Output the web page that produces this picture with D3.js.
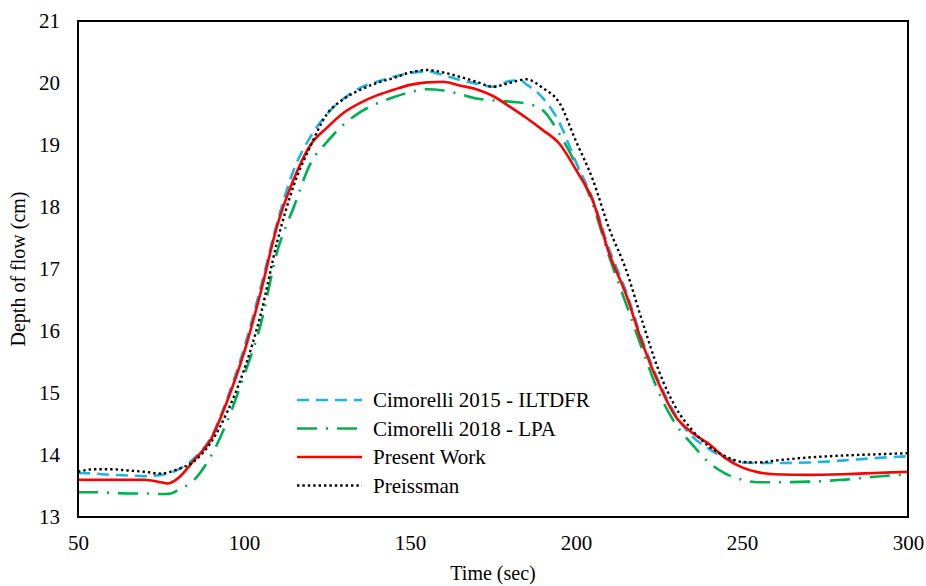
<!DOCTYPE html>
<html>
<head>
<meta charset="utf-8">
<script src="https://cdn.jsdelivr.net/npm/d3@7"></script>
<style>
  html, body { margin: 0; padding: 0; background: #fff; }
  svg { display: block; }
  text { font-family: "Liberation Serif", "Times New Roman", serif; fill: #000; }
</style>
</head>
<body>
<svg id="chart" width="926" height="586"></svg>
<script>
// ---- data ----
const timesBlue  = [50,55,60,65,70,75,80,85,90,95,100,105,110,115,120,125,130,135,140,145,150,155,160,165,170,175,180,183,185,190,195,200,205,210,215,220,225,230,235,240,245,250,255,260,270,280,290,300];
const cimorelli2015 = [13.71,13.70,13.68,13.67,13.66,13.68,13.76,13.95,14.28,14.92,15.72,16.70,17.75,18.60,19.13,19.50,19.75,19.92,20.02,20.10,20.16,20.19,20.13,20.05,19.99,19.94,20.03,20.05,19.98,19.76,19.36,18.72,18.13,17.32,16.65,15.85,15.18,14.65,14.30,14.10,13.95,13.88,13.87,13.87,13.88,13.91,13.95,13.98];

const timesGreen = [50,55,60,65,70,75,78,80,85,90,95,100,105,110,115,120,125,130,135,140,145,150,155,160,165,170,175,180,185,190,195,200,205,210,215,220,225,230,235,240,245,250,255,260,270,280,290,300];
const cimorelli2018 = [13.40,13.40,13.39,13.38,13.38,13.37,13.38,13.43,13.60,13.98,14.55,15.28,16.10,17.28,18.00,18.70,19.05,19.33,19.53,19.67,19.77,19.85,19.90,19.88,19.82,19.75,19.72,19.70,19.67,19.56,19.18,18.68,18.05,17.20,16.45,15.70,15.00,14.50,14.17,13.88,13.70,13.60,13.56,13.56,13.57,13.60,13.65,13.69];

const timesRed = [50,55,60,65,70,75,77,80,85,90,95,100,105,110,115,120,125,130,135,140,145,150,155,160,165,170,175,180,185,190,195,200,205,210,215,220,225,230,235,240,245,250,255,260,270,280,290,300];
const presentWork = [13.60,13.60,13.60,13.60,13.60,13.56,13.54,13.62,13.92,14.25,14.88,15.65,16.62,17.70,18.45,19.00,19.28,19.52,19.68,19.80,19.89,19.97,20.01,20.02,19.96,19.90,19.79,19.62,19.44,19.24,19.02,18.60,18.11,17.25,16.60,15.80,15.14,14.62,14.36,14.18,13.95,13.80,13.72,13.69,13.68,13.69,13.71,13.73];

const timesBlack = [50,55,60,65,70,75,80,85,90,95,100,105,110,115,120,125,130,135,140,145,150,155,160,165,170,175,180,185,190,195,200,205,210,215,220,225,230,235,240,245,250,255,260,270,280,290,300];
const preissman = [13.73,13.77,13.77,13.75,13.73,13.70,13.77,13.90,14.20,14.70,15.37,16.26,17.44,18.35,18.98,19.50,19.74,19.89,20.00,20.08,20.17,20.21,20.17,20.10,20.02,19.94,20.00,20.06,19.92,19.68,19.06,18.45,17.65,17.00,16.15,15.35,14.77,14.40,14.14,13.98,13.89,13.88,13.91,13.96,13.99,14.01,14.03];

const xTicks = [50,100,150,200,250,300];
const yTicks = [13,14,15,16,17,18,19,20,21];
const seriesNames = ["Cimorelli 2015 - ILTDFR","Cimorelli 2018 - LPA","Present Work","Preissman"];
const xTitle = "Time (sec)";
const yTitle = "Depth of flow (cm)";

// ---- layout ----
const svg = d3.select("#chart");
const pL = 78, pR = 908, pT = 21, pB = 517;
const x = d3.scaleLinear().domain([50,300]).range([pL,pR]);
const y = d3.scaleLinear().domain([13,21]).range([pB,pT]);

const series = [
  {name: seriesNames[0], t: timesBlue,  v: cimorelli2015, color: "#1FB5E3", width: 2.6, dash: "12,7"},
  {name: seriesNames[1], t: timesGreen, v: cimorelli2018, color: "#00B050", width: 2.6, dash: "20,9,2,9"},
  {name: seriesNames[2], t: timesRed,   v: presentWork,   color: "#FF0000", width: 2.6, dash: null},
  {name: seriesNames[3], t: timesBlack, v: preissman,     color: "#000000", width: 2.4, dash: "2.4,3"}
];

const line = d3.line().x(d => x(d[0])).y(d => y(d[1])).curve(d3.curveMonotoneX);

const drawOrder = [1,0,2,3];
drawOrder.forEach(i => {
  const s = series[i];
  const pts = s.t.map((t,k) => [t, s.v[k]]);
  svg.append("path")
    .attr("d", line(pts))
    .attr("fill","none")
    .attr("stroke", s.color)
    .attr("stroke-width", s.width)
    .attr("stroke-dasharray", s.dash);
});

// frame
svg.append("rect")
  .attr("x", pL).attr("y", pT)
  .attr("width", pR-pL).attr("height", pB-pT)
  .attr("fill","none").attr("stroke","#000").attr("stroke-width",2);

// axes
const xAxis = svg.append("g").attr("transform", `translate(0,${pB})`)
  .call(d3.axisBottom(x).tickValues(xTicks).tickSize(0).tickPadding(18));
xAxis.select(".domain").remove();
xAxis.selectAll("text").style("font-size","21px").style("font-family","Liberation Serif, Times New Roman, serif").attr("fill","#000");

const yAxis = svg.append("g").attr("transform", `translate(${pL},0)`)
  .call(d3.axisLeft(y).tickValues(yTicks).tickSize(0).tickPadding(18));
yAxis.select(".domain").remove();
yAxis.selectAll("text").style("font-size","21px").style("font-family","Liberation Serif, Times New Roman, serif").attr("fill","#000");

// titles
svg.append("text").attr("x", (pL+pR)/2).attr("y", 580)
  .attr("text-anchor","middle").style("font-size","20px").text(xTitle);
svg.append("text").attr("transform", `translate(25,${(pT+pB)/2}) rotate(-90)`)
  .attr("text-anchor","middle").style("font-size","20px").text(yTitle);

// legend
const legX = 297, legY0 = 400, legDy = 28.5;
series.forEach((s,i) => {
  const yy = legY0 + i*legDy;
  svg.append("line").attr("x1", legX).attr("x2", legX+65).attr("y1", yy).attr("y2", yy)
    .attr("stroke", s.color).attr("stroke-width", s.width)
    .attr("stroke-dasharray", s.dash);
  svg.append("text").attr("x", legX+76).attr("y", yy).attr("dy","0.35em")
    .style("font-size","21px").text(s.name);
});
</script>
</body>
</html>
